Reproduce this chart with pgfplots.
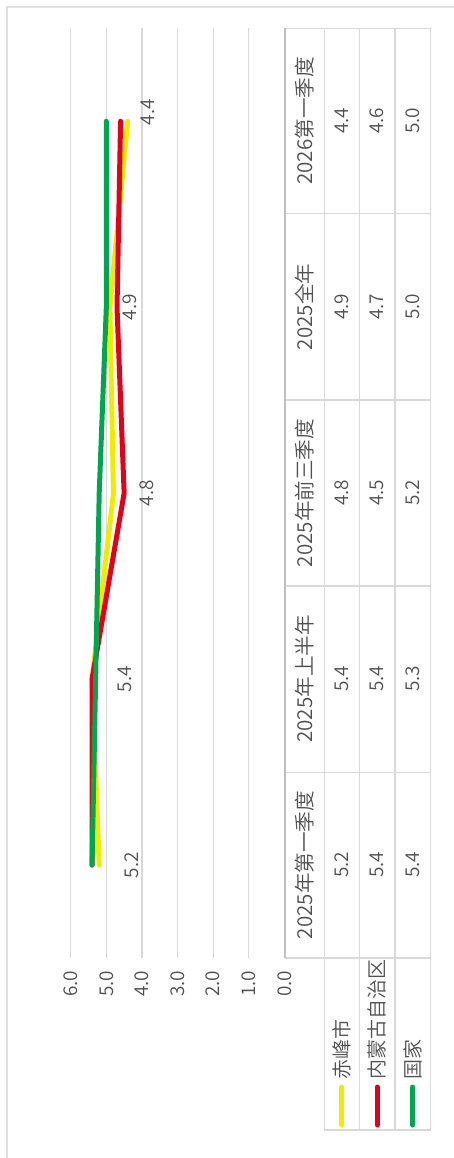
\documentclass[border=0pt]{standalone}
\usepackage{pgfplots}
\pgfplotsset{compat=1.18}
\usepackage{pgfplotstable}
\usepackage{fontspec}
\setmainfont{Noto Sans CJK SC}[UprightFont={* DemiLight}]
\definecolor{textgray}{HTML}{505050}
\definecolor{gridgray}{HTML}{D9D9D9}
\definecolor{axisgray}{HTML}{BFBFBF}
\definecolor{framegray}{HTML}{E0E0E0}
\definecolor{cyellow}{RGB}{240,236,0}
\definecolor{cred}{HTML}{E2001A}
\definecolor{cgreen}{HTML}{00A54F}

\pgfplotstableread{
idx a b c dx dy
0 5.2 5.4 5.4 32.5 0
1 5.4 5.4 5.3 33 0
2 4.8 4.5 5.2 33.5 0
3 4.9 4.7 5.0 20 0
4 4.4 4.6 5.0 20 9
}\data

\tikzset{pix/.style={x=0.5pt,y=-0.5pt,shift={(-70.7,-958)}}}

\begin{document}
\begin{tikzpicture}
\path[use as bounding box] (-35.35pt,-100pt) rectangle (191.65pt,479pt);
\begin{axis}[
  at={(0,0)}, anchor=south west,
  width=106.9pt, height=464.85pt, scale only axis,
  clip=false,
  xmin=0, xmax=6, x dir=reverse,
  ymin=-0.5, ymax=4.5,
  xtick={0,1,2,3,4,5,6}, ytick=\empty,
  xmajorgrids, grid style={draw=gridgray, line width=0.6pt},
  axis line style={draw=none},
  major tick length=0pt,
  /pgf/number format/assume math mode=true,
  xticklabel={\pgfmathprintnumber[fixed,fixed zerofill,precision=1]{\tick}},
  xticklabel style={rotate=90, anchor=east, inner sep=0pt, text=textgray, font=\fontsize{9.5}{9.5}\selectfont},
  xticklabel shift=6.3pt,
]
\addplot[cyellow, line width=2.5pt, line join=round, line cap=round,
  nodes near coords={\pgfmathprintnumber[fixed,fixed zerofill,precision=1]{\pgfplotspointmeta}},
  point meta=x,
  visualization depends on={\thisrow{dx} \as \dx},
  visualization depends on={\thisrow{dy} \as \dy},
  every node near coord/.style={xshift=\dx*0.5pt, yshift=\dy*0.5pt, rotate=90, anchor=center, inner sep=0pt, text=textgray, font=\fontsize{9.5}{9.5}\selectfont}]
  table[x=a, y=idx] {\data};
\addplot[cred, line width=2.5pt, line join=round, line cap=round] table[x=b, y=idx] {\data};
\addplot[cgreen, line width=2.5pt, line join=round, line cap=round] table[x=c, y=idx] {\data};
\end{axis}
\begin{scope}[pix]
  % frame
  \draw[framegray, line width=0.8pt] (7,1158) -- (7,7) -- (454,7);
  % table grid
  \draw[gridgray, line width=0.6pt]
    (324.3,28.3) -- (324.3,1130)
    (359.3,28.3) -- (359.3,1130)
    (395,28.3) -- (395,1130)
    (430.7,28.3) -- (430.7,1130);
  \foreach \yy in {28.3,213.3,400,586,772.7,958}
    \draw[gridgray, line width=0.6pt] (285,\yy) -- (430.7,\yy);
  \draw[gridgray, line width=0.6pt] (324.3,1130) -- (430.7,1130);
  \draw[axisgray, line width=0.8pt] (285,28.3) -- (285,958);
  % header and values
  \begin{scope}[every node/.style={rotate=90, anchor=center, inner sep=0pt, text=textgray}]
    \node[font=\fontsize{10.3}{10.3}\selectfont] at (304.6,865) {2025年第一季度};
    \node[font=\fontsize{10.3}{10.3}\selectfont] at (304.6,679) {2025年上半年};
    \node[font=\fontsize{10.3}{10.3}\selectfont] at (304.6,493) {2025年前三季度};
    \node[font=\fontsize{10.3}{10.3}\selectfont] at (304.6,307) {2025全年};
    \node[font=\fontsize{10.3}{10.3}\selectfont] at (304.6,121) {2026第一季度};
    \foreach \yy/\va/\vb/\vc in {865/5.2/5.4/5.4, 679/5.4/5.4/5.3, 493/4.8/4.5/5.2, 307/4.9/4.7/5.0, 121/4.4/4.6/5.0}{
      \node[font=\fontsize{9.5}{9.5}\selectfont] at (341.8,\yy) {\va};
      \node[font=\fontsize{9.5}{9.5}\selectfont] at (377.2,\yy) {\vb};
      \node[font=\fontsize{9.5}{9.5}\selectfont] at (412.9,\yy) {\vc};
    }
  \end{scope}
  % legend
  \draw[cyellow, line width=2.5pt, line cap=round] (341.8,1087) -- (341.8,1125);
  \draw[cred, line width=2.5pt, line cap=round] (377.2,1087) -- (377.2,1125);
  \draw[cgreen, line width=2.5pt, line cap=round] (412.9,1087) -- (412.9,1125);
  \begin{scope}[every node/.style={rotate=90, anchor=west, inner sep=0pt, text=textgray, font=\fontsize{10}{10}\selectfont}]
    \node at (341.8,1080) {赤峰市};
    \node at (377.2,1080) {内蒙古自治区};
    \node at (412.9,1080) {国家};
  \end{scope}
\end{scope}
\end{tikzpicture}
\end{document}
